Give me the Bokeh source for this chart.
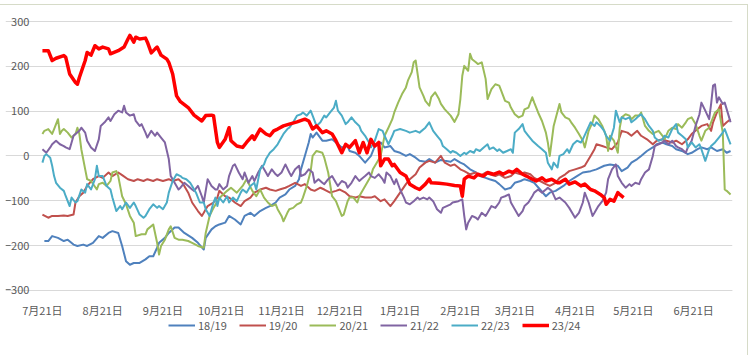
from bokeh.plotting import figure
from bokeh.models import FixedTicker, Legend, LegendItem
from bokeh.embed import file_html
from bokeh.resources import INLINE

# x = days since 21 July, y = value
tick_days = [0, 31, 62, 92, 123, 153, 184, 215, 243, 274, 304, 335]
tick_labels = ["7月21日", "8月21日", "9月21日", "10月21日", "11月21日", "12月21日",
               "1月21日", "2月21日", "3月21日", "4月21日", "5月21日", "6月21日"]
y_ticks = [-300, -200, -100, 0, 100, 200, 300]

s1819 = [(1,-190),(3,-190),(5,-179),(8,-183),(11,-190),(13,-187),(16,-198),(18,-201),(21,-198),(23,-201),(26,-194),(29,-179),(31,-183),(34,-172),(36,-168),(39,-172),(41,-201),(43,-235),(45,-243),(47,-239),(50,-239),(53,-231),(55,-224),(57,-224),(59,-205),(60,-194),(63,-183),(65,-172),(68,-160),(70,-160),(73,-172),(77,-183),(80,-194),(83,-209),(84,-183),(87,-164),(89,-157),(91,-153),(94,-149),(96,-134),(99,-142),(102,-153),(104,-134),(107,-127),(109,-134),(112,-123),(115,-116),(117,-112),(120,-104),(122,-93),(125,-86),(127,-75),(130,-67),(132,-52),(133,-30),(135,0),(137,30),(138,49),(139,41),(141,52),(144,34),(146,34),(149,37),(151,30),(154,19),(157,22),(158,11),(161,7),(163,0),(166,-15),(169,0),(171,22),(174,30),(176,19),(179,22),(181,11),(184,7),(187,0),(189,4),(192,-4),(194,-11),(197,-13),(199,-7),(202,-15),(205,-9),(207,-11),(210,-13),(212,-7),(215,-15),(217,-19),(220,-30),(223,-37),(225,-45),(228,-49),(230,-52),(233,-56),(235,-63),(238,-75),(241,-71),(243,-60),(246,-56),(248,-52),(251,-56),(253,-60),(256,-75),(259,-90),(261,-82),(264,-78),(268,-67),(271,-56),(275,-45),(278,-37),(282,-34),(285,-30),(289,-22),(292,-19),(296,-22),(298,-34),(301,-26),(303,-15),(306,-7),(308,0),(311,11),(314,19),(316,26),(319,30),(321,26),(324,22),(326,15),(329,11),(332,4),(334,7),(337,15),(339,19),(342,15),(344,19),(347,11),(350,15),(352,7),(354,11)]

s1920 = [(0,-131),(3,-138),(5,-134),(8,-134),(11,-133),(13,-134),(16,-131),(17,-104),(19,-90),(21,-82),(23,-67),(26,-52),(29,-45),(31,-49),(34,-37),(36,-45),(39,-37),(41,-43),(44,-52),(47,-56),(49,-52),(52,-56),(54,-52),(57,-56),(59,-52),(62,-56),(65,-52),(67,-56),(70,-52),(72,-60),(75,-82),(77,-104),(80,-123),(82,-134),(83,-127),(85,-112),(88,-104),(90,-93),(91,-78),(94,-90),(96,-93),(99,-104),(102,-112),(104,-101),(107,-93),(109,-82),(112,-75),(115,-71),(117,-75),(120,-78),(122,-75),(125,-71),(127,-67),(130,-60),(133,-67),(135,-63),(138,-75),(140,-78),(143,-71),(145,-75),(148,-82),(151,-78),(153,-75),(156,-82),(158,-90),(161,-93),(163,-90),(166,-93),(169,-93),(171,-90),(174,-101),(176,-97),(179,-112),(181,-101),(184,-82),(187,-63),(189,-52),(192,-41),(194,-26),(197,-15),(199,-11),(202,-15),(205,0),(207,-15),(210,-22),(212,-19),(215,-30),(217,-34),(220,-41),(223,-37),(225,-45),(228,-37),(230,-41),(233,-45),(235,-41),(238,-49),(241,-45),(243,-37),(246,-41),(248,-37),(251,-41),(253,-49),(256,-56),(259,-63),(261,-67),(264,-60),(266,-49),(269,-41),(271,-34),(274,-30),(277,-26),(279,-22),(282,0),(284,15),(285,26),(288,22),(290,19),(293,15),(296,30),(298,56),(301,52),(303,45),(306,56),(308,45),(311,37),(314,26),(316,34),(319,37),(321,34),(324,30),(326,34),(329,26),(332,37),(334,49),(337,60),(339,67),(342,71),(344,56),(345,75),(347,97),(349,115),(350,67),(352,75),(354,82)]

s2021 = [(0,49),(1,56),(3,60),(5,49),(6,60),(8,82),(9,49),(10,56),(11,60),(13,52),(15,41),(17,49),(18,63),(19,49),(20,15),(22,-30),(23,-52),(25,-56),(28,-75),(29,-63),(31,-60),(33,-67),(35,-56),(36,-37),(38,-34),(39,-45),(41,-90),(43,-108),(45,-134),(47,-149),(48,-179),(51,-175),(53,-175),(54,-164),(57,-153),(59,-194),(60,-220),(61,-201),(63,-187),(65,-164),(66,-157),(68,-183),(70,-187),(72,-187),(75,-190),(77,-194),(80,-201),(83,-205),(84,-172),(86,-134),(88,-116),(90,-101),(92,-90),(95,-78),(97,-71),(100,-82),(103,-67),(105,-52),(108,-78),(110,-90),(112,-75),(114,-93),(116,-104),(118,-112),(120,-108),(121,-119),(123,-134),(124,-146),(126,-127),(127,-119),(129,-116),(131,-108),(133,-104),(134,-93),(136,-67),(138,-34),(139,0),(141,11),(144,7),(145,-4),(147,-37),(149,-90),(151,-101),(152,-112),(154,-134),(155,-131),(157,-101),(158,-93),(160,-93),(162,-104),(163,-90),(165,-75),(167,-60),(169,-45),(170,-30),(172,-15),(174,0),(176,45),(178,63),(180,82),(181,97),(183,119),(185,138),(187,153),(188,168),(190,187),(191,209),(192,213),(193,183),(194,153),(196,134),(197,123),(199,112),(200,131),(202,142),(204,127),(205,116),(207,104),(210,90),(212,76),(214,93),(215,127),(216,179),(217,201),(219,190),(220,228),(221,216),(223,209),(224,205),(226,209),(228,172),(229,127),(231,149),(233,160),(235,157),(236,146),(238,123),(240,119),(241,108),(243,93),(245,86),(247,90),(248,104),(250,108),(252,131),(253,119),(255,97),(257,78),(259,52),(260,30),(261,0),(263,67),(266,116),(267,97),(269,86),(271,82),(272,75),(274,63),(276,49),(278,34),(279,19),(281,56),(283,75),(284,90),(286,82),(288,67),(290,45),(291,11),(292,45),(294,34),(296,7),(297,63),(298,86),(300,93),(302,90),(303,82),(305,90),(307,90),(308,97),(310,67),(312,56),(314,49),(315,52),(317,56),(319,45),(320,37),(322,56),(324,63),(326,60),(327,71),(329,63),(331,75),(332,82),(334,86),(336,71),(338,45),(339,34),(341,56),(343,63),(344,75),(346,97),(348,104),(350,52),(351,-75),(352,-78),(354,-86)]

s2122 = [(0,15),(2,7),(4,19),(5,26),(7,34),(9,26),(11,22),(12,19),(14,15),(16,45),(17,49),(19,56),(20,63),(22,52),(23,34),(25,19),(27,11),(29,37),(30,67),(32,75),(34,86),(35,78),(37,93),(39,101),(41,97),(42,112),(43,97),(45,90),(47,93),(48,78),(50,67),(51,71),(53,52),(54,41),(56,56),(58,45),(59,52),(61,41),(63,30),(65,-7),(66,-45),(68,-60),(70,-75),(71,-71),(73,-60),(75,-67),(77,-75),(78,-78),(80,-67),(82,-90),(83,-104),(85,-52),(87,-67),(89,-75),(90,-75),(91,-63),(93,-75),(95,-67),(96,-45),(98,-22),(99,-19),(101,-37),(103,-52),(104,-37),(106,-60),(108,-45),(109,-56),(111,-37),(113,-22),(115,-37),(116,-45),(118,-30),(120,-41),(121,-45),(123,-37),(125,-19),(127,-37),(128,-45),(130,-30),(132,-22),(133,-45),(135,-41),(137,-30),(139,-37),(140,-60),(142,-52),(144,-60),(145,-63),(147,-52),(149,-45),(151,-60),(152,-67),(154,-56),(156,-60),(157,-71),(159,-60),(161,-45),(163,-56),(164,-52),(166,-45),(168,-37),(169,-45),(171,-49),(173,-41),(175,-52),(176,-60),(177,-37),(179,-45),(181,-63),(182,-52),(184,-75),(186,-93),(187,-104),(189,-108),(191,-101),(193,-93),(194,-97),(196,-93),(198,-97),(199,-93),(201,-101),(203,-119),(205,-127),(206,-116),(208,-112),(210,-108),(211,-104),(214,-101),(216,-97),(217,-134),(218,-164),(219,-149),(221,-134),(223,-138),(224,-142),(226,-127),(228,-134),(229,-127),(231,-112),(233,-116),(235,-104),(236,-93),(238,-90),(240,-86),(241,-104),(243,-119),(245,-134),(247,-123),(248,-112),(250,-104),(252,-90),(253,-82),(255,-75),(257,-82),(259,-75),(260,-71),(262,-78),(264,-97),(266,-93),(269,-104),(271,-116),(274,-138),(276,-127),(278,-104),(279,-82),(281,-104),(283,-134),(284,-127),(286,-112),(288,-101),(290,-82),(291,-52),(293,-30),(295,-19),(296,-45),(298,-60),(300,-71),(302,-63),(303,-67),(305,-60),(307,-63),(308,-52),(310,-37),(312,-30),(314,0),(315,22),(317,26),(319,30),(320,34),(322,26),(324,34),(326,22),(327,19),(329,15),(331,7),(332,19),(334,34),(336,67),(338,93),(339,119),(341,101),(343,82),(344,116),(345,157),(346,160),(347,119),(348,131),(350,116),(351,119),(353,90),(354,75)]

s2223 = [(0,-15),(1,0),(2,4),(4,-4),(5,-22),(6,-45),(7,-60),(9,-71),(11,-78),(12,-90),(14,-112),(15,-93),(17,-104),(18,-101),(20,-75),(22,-82),(23,-63),(25,-75),(27,-52),(28,-22),(29,-45),(31,-45),(33,-67),(35,-75),(36,-93),(38,-123),(40,-112),(41,-119),(43,-104),(45,-116),(47,-104),(48,-112),(50,-131),(52,-138),(53,-134),(55,-119),(57,-108),(59,-116),(60,-112),(62,-119),(64,-104),(65,-82),(67,-56),(69,-41),(71,-45),(72,-49),(74,-52),(76,-60),(77,-67),(79,-82),(81,-104),(83,-104),(84,-119),(86,-134),(88,-104),(89,-93),(90,-112),(91,-93),(93,-104),(95,-90),(96,-104),(98,-93),(100,-101),(102,-82),(103,-75),(105,-82),(107,-67),(109,-60),(110,-75),(112,-30),(114,-19),(115,-7),(117,7),(119,15),(121,26),(122,34),(124,49),(126,60),(127,63),(129,75),(131,90),(133,93),(134,97),(136,90),(138,101),(139,90),(141,67),(143,75),(145,90),(146,86),(148,97),(150,108),(151,123),(152,101),(154,90),(156,71),(157,75),(159,86),(161,75),(163,67),(164,56),(166,45),(168,30),(169,19),(171,34),(173,60),(175,56),(176,45),(178,26),(180,45),(181,56),(184,60),(187,56),(189,52),(192,56),(194,52),(197,63),(199,75),(201,56),(203,45),(205,34),(206,22),(208,15),(210,7),(211,11),(213,7),(215,0),(217,7),(218,4),(220,11),(222,7),(223,15),(225,11),(227,19),(229,26),(230,15),(232,19),(234,11),(235,15),(237,7),(239,11),(241,15),(242,7),(243,52),(245,60),(247,71),(248,56),(250,45),(252,34),(253,30),(255,22),(257,15),(259,7),(260,-15),(262,-30),(263,-15),(265,-26),(266,0),(268,4),(270,15),(271,7),(273,26),(275,34),(277,30),(278,37),(280,56),(282,75),(284,67),(285,75),(287,67),(289,56),(290,45),(292,34),(294,63),(295,101),(297,75),(298,86),(300,82),(302,86),(303,75),(305,82),(307,90),(308,93),(310,82),(312,67),(314,56),(315,41),(317,34),(319,37),(320,45),(322,41),(324,60),(326,71),(327,52),(329,45),(331,37),(332,19),(334,30),(336,19),(338,26),(339,15),(341,-11),(343,15),(344,22),(346,30),(348,41),(350,52),(351,60),(353,37),(354,26)]

s2324 = [(0,235),(3,235),(5,213),(7,218),(11,224),(12,220),(14,183),(17,164),(18,160),(19,175),(22,213),(23,231),(25,225),(27,246),(29,239),(31,243),(34,239),(35,228),(39,235),(42,243),(44,261),(45,269),(47,254),(48,265),(50,261),(53,263),(54,254),(56,230),(58,239),(59,243),(61,225),(64,216),(65,209),(67,183),(69,134),(71,121),(75,108),(78,91),(82,78),(84,90),(87,91),(88,90),(90,30),(91,19),(94,37),(96,63),(97,34),(100,22),(103,19),(105,30),(108,45),(109,37),(112,60),(115,49),(117,45),(119,56),(121,60),(124,67),(127,71),(131,76),(135,82),(137,78),(139,60),(141,67),(144,52),(146,56),(149,49),(151,34),(154,7),(156,26),(158,19),(161,34),(163,7),(165,30),(167,7),(169,37),(171,22),(173,30),(174,-22),(176,-7),(178,-7),(180,-22),(181,-19),(184,-37),(187,-45),(189,-63),(192,-71),(194,-75),(197,-63),(199,-52),(200,-60),(204,-61),(208,-63),(212,-66),(215,-67),(216,-90),(217,-52),(219,-45),(222,-49),(224,-41),(227,-45),(229,-37),(232,-41),(235,-36),(237,-41),(240,-34),(242,-37),(244,-30),(247,-41),(249,-45),(252,-52),(254,-56),(257,-49),(259,-56),(262,-52),(265,-60),(266,-60),(269,-52),(271,-63),(274,-58),(277,-67),(279,-63),(282,-75),(284,-78),(287,-86),(289,-93),(290,-108),(292,-97),(294,-101),(296,-82),(297,-86),(299,-93)]

series_names = ["18/19", "19/20", "20/21", "21/22", "22/23", "23/24"]
series_data = [s1819, s1920, s2021, s2122, s2223, s2324]
colors = ["#4F81BD", "#C0504D", "#9BBB59", "#8064A2", "#4BACC6", "#FF0000"]
widths = [2, 2, 2, 2, 2, 3.5]

FONT = "Noto Sans CJK SC"
GRAY = "#595959"
GRID = "#d9d9d9"

# The frame is enlarged beyond the data area so axis labels and legend can be
# drawn inside it; grid and axis lines are bounded to the data area.
p = figure(width=748, height=351, x_range=(-19.0, 355), y_range=(-447.8, 335.8),
           output_backend="svg", toolbar_location=None,
           min_border_left=5, min_border_right=16, min_border_top=0,
           min_border_bottom=0)
p.styles = {"border-top": "1px solid #d6dbc8", "border-right": "1px solid #d6dbc8",
            "margin-top": "4px"}
p.outline_line_color = None
p.background_fill_color = "white"
p.border_fill_color = "white"

p.xaxis.fixed_location = -300
p.xaxis.bounds = (0, 355)
p.xaxis.ticker = FixedTicker(ticks=tick_days)
p.xaxis.major_label_overrides = {d: t for d, t in zip(tick_days, tick_labels)}
p.xaxis.major_tick_line_color = None
p.xaxis.minor_tick_line_color = None
p.xaxis.axis_line_color = GRID
p.xaxis.major_label_standoff = 6
p.xgrid.visible = False

p.yaxis.fixed_location = 0
p.yaxis.ticker = FixedTicker(ticks=y_ticks)
p.yaxis.axis_line_color = None
p.yaxis.major_tick_line_color = None
p.yaxis.minor_tick_line_color = None
p.yaxis.major_label_standoff = 7
p.ygrid.grid_line_color = GRID
p.ygrid.bounds = (0, 355)

for ax in (p.xaxis[0], p.yaxis[0]):
    ax.major_label_text_font = FONT
    ax.major_label_text_font_size = "11px"
    ax.major_label_text_color = GRAY

items = []
for name, data, c, w in zip(series_names, series_data, colors, widths):
    xs = [d for d, v in data]
    ys = [v for d, v in data]
    r = p.line(xs, ys, line_color=c, line_width=w, line_join="round")
    items.append(LegendItem(label=name, renderers=[r]))

legend = Legend(items=items, orientation="horizontal", location=(163, 23),
                border_line_color=None, background_fill_alpha=0,
                glyph_width=27, glyph_height=14, label_height=14,
                label_standoff=3, spacing=12,
                label_text_font=FONT, label_text_font_size="11px",
                label_text_color=GRAY, margin=0, padding=0)
p.add_layout(legend)

open("out.html", "w").write(file_html(p, INLINE))
